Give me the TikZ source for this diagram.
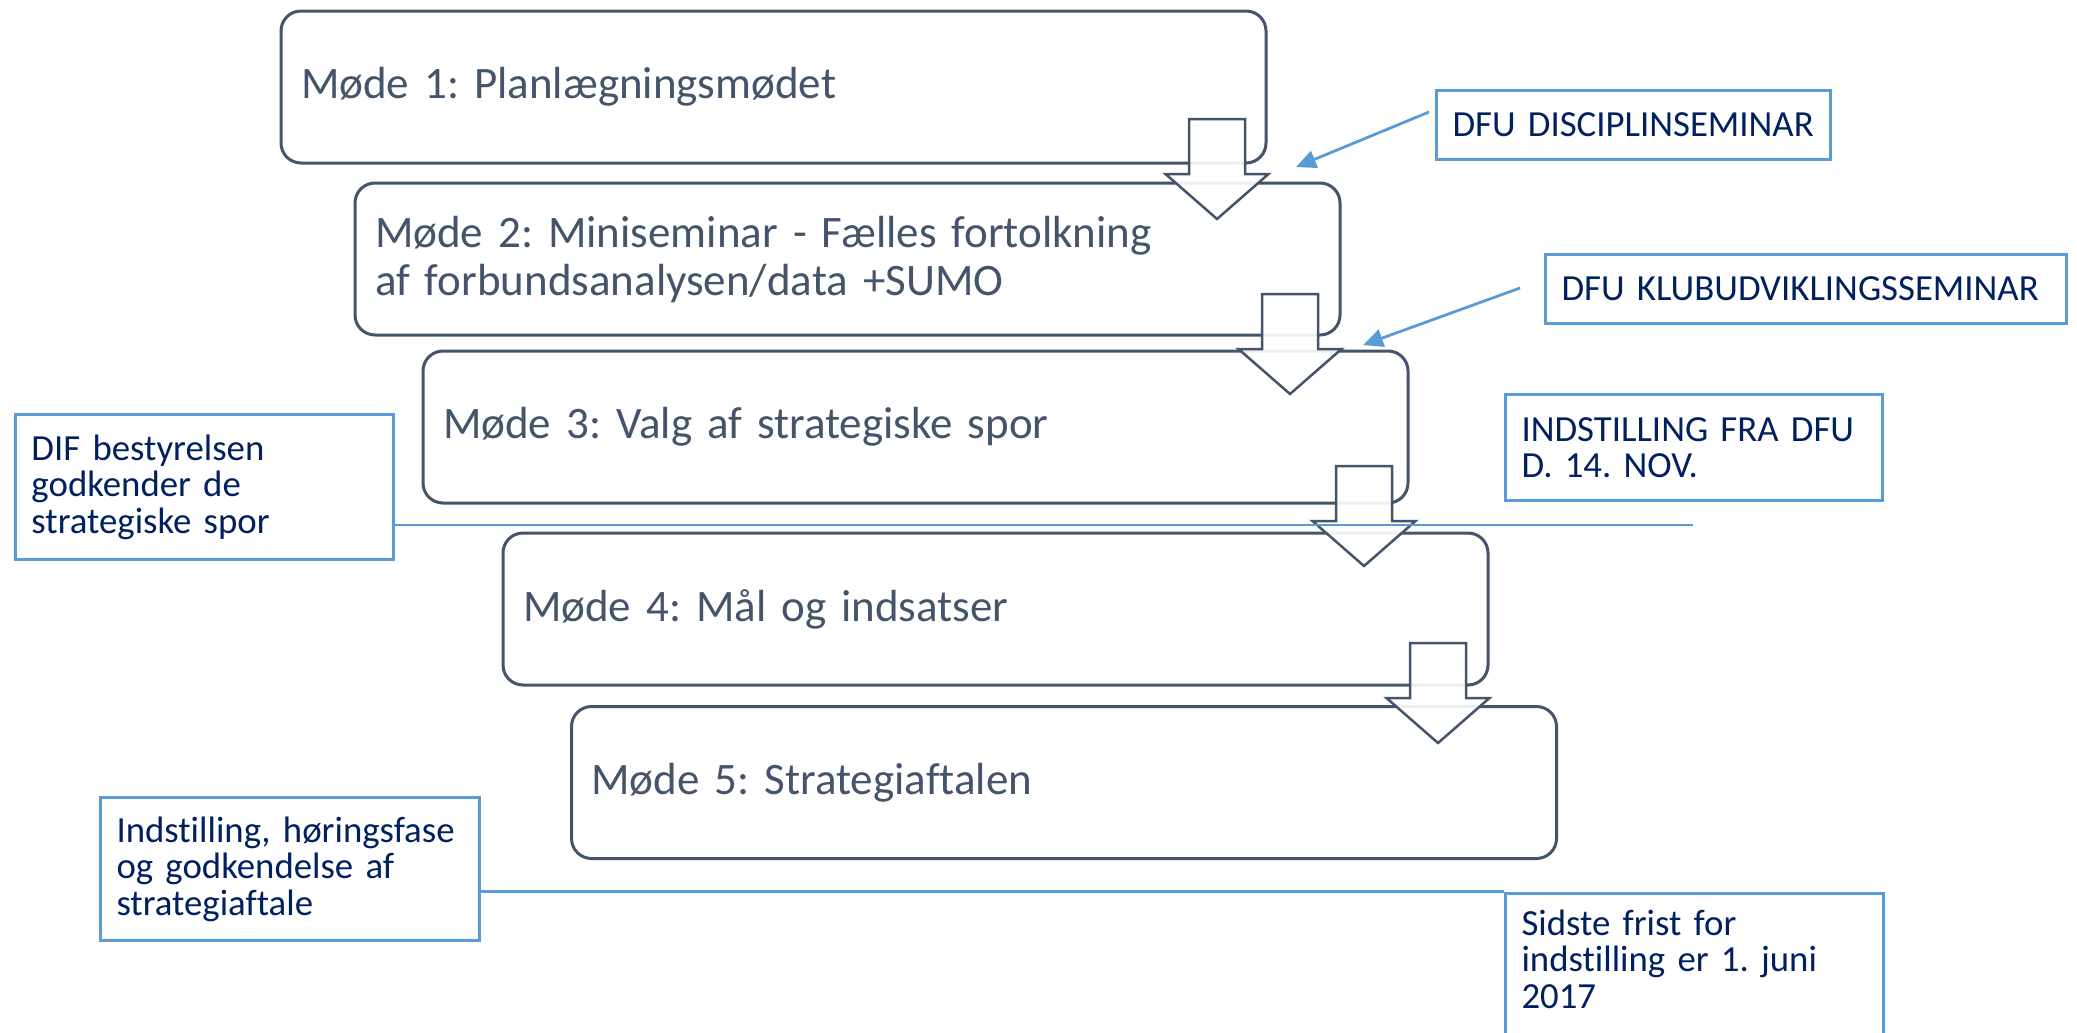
\documentclass[tikz,border=0pt]{standalone}
\usepackage{fontspec}
\setmainfont{Carlito}[Ligatures=NoCommon]
\frenchspacing
\usetikzlibrary{arrows.meta,calc}
\definecolor{slate}{HTML}{44546A}
\definecolor{lblue}{HTML}{5B9BD5}
\definecolor{navy}{HTML}{002060}
\tikzset{
  mbox/.style={draw=slate, line width=1.5pt, rounded corners=10pt, inner xsep=10pt, inner ysep=0pt,
    text width=472.5pt, minimum height=76pt, align=left, text=slate,
    font=\fontsize{22.5}{24}\selectfont},
  lbl/.style={draw=lblue, line width=1.5pt, inner xsep=8pt, inner ysep=4pt, align=left, text=navy,
    font=\fontsize{18.4}{18.3}\selectfont, anchor=north west, fill=white},
  conn/.style={draw=lblue, line width=1.4pt},
  blockarrow/.pic={\draw[draw=slate, line width=1.25pt, fill=white, fill opacity=0.9]
    (-28,0) -- (28,0) -- (28,55) -- (51.5,55) -- (0,100) -- (-51.5,55) -- (-28,55) -- cycle;}
}
\begin{document}
\begin{tikzpicture}[x=0.5pt,y=-0.5pt]
\useasboundingbox (0,0) rectangle (2077,1033);
\clip (0,0) rectangle (2077,1033);
\fill[white] (0,0) rectangle (2077,1033);

% main boxes
\node[mbox] (m1) at (773.5,87) {Møde 1: Planlægningsmødet};
\node[mbox] (m2) at (847.5,259) {Møde 2: Miniseminar - Fælles fortolkning\\af forbundsanalysen/data +SUMO};
\node[mbox] (m3) at (915.5,427) {Møde 3: Valg af strategiske spor};
\node[mbox] (m4) at (995.5,609) {Møde 4: Mål og indsatser};
\node[mbox] (m5) at (1064,782.5) {Møde 5: Strategiaftalen};

% block arrows
\pic (a1) at (1217,119) {blockarrow};
\pic (a2) at (1290,294) {blockarrow};
\pic (a3) at (1364,466) {blockarrow};
\pic (a4) at (1438,643) {blockarrow};

% labels
\node[lbl, text width=181pt, minimum height=34.5pt] (disc) at (1435,89) {DFU DISCIPLINSEMINAR};
\node[lbl, text width=244.5pt, minimum height=34.5pt] (klub) at (1544,253) {DFU KLUBUDVIKLINGSSEMINAR};
\node[lbl, text width=172.5pt, minimum height=53pt] (indst) at (1504,393) {INDSTILLING FRA DFU\\D. 14. NOV.};
\node[lbl, text width=173pt, minimum height=72.5pt] (dif) at (14,413) {DIF bestyrelsen\\godkender de\\strategiske spor};
\node[lbl, text width=173.5pt, minimum height=71.5pt] (ind) at (99,796) {Indstilling, høringsfase\\og godkendelse af\\strategiaftale};
\node[lbl, anchor=base west, text width=173pt, inner ysep=5pt, text height=16pt, text depth=70pt] (sidste) at (1504,935) {Sidste frist for\\indstilling er 1. juni\\2017};

% connectors
\coordinate (discs) at (1429,112);
\coordinate (disce) at (1296,167);
\coordinate (klubs) at (1520,288);
\coordinate (klube) at (1363,345);
\coordinate (difend) at (1693,525);
\draw[conn, -{Triangle[length=10pt,width=9pt]}] (discs) -- (disce);
\draw[conn, -{Triangle[length=10pt,width=9pt]}] (klubs) -- (klube);
\draw[conn] (dif.east |- difend) -- (difend);
\draw[conn] (ind.east |- sidste.north west) -- (sidste.north west);
\end{tikzpicture}
\end{document}
